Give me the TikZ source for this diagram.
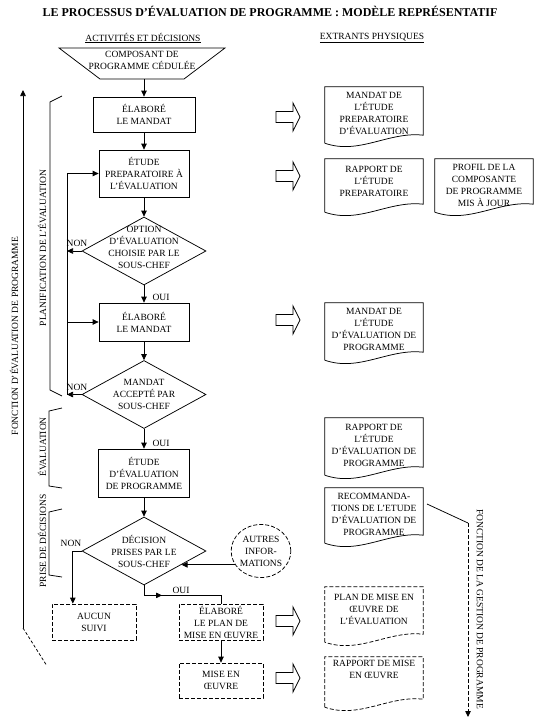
\documentclass[tikz,border=0pt]{standalone}
\usepackage{fontspec}
\setmainfont{Liberation Serif}
\usetikzlibrary{shapes.geometric, arrows.meta, calc}
\newcommand\mydocpath[1]{(#1.south west) -- (#1.north west) -- (#1.north east) -- ([yshift=8pt]#1.south east) .. controls ($(#1.south west)!0.65!(#1.south east)+(0,-12)$) and ($(#1.south west)!0.35!(#1.south east)+(0,12)$) .. (#1.south west)}
\begin{document}
\begin{tikzpicture}[x=1pt, y=-1pt,
  every node/.style={font=\fontsize{9.5}{12}\selectfont, align=center, inner sep=0pt},
  ln/.style={line width=0.75pt},
  arr/.style={ln, -{Triangle[length=6pt,width=5.5pt]}},
  dsh/.style={dash pattern=on 4pt off 2pt},
  stepbox/.style={draw, ln, rectangle},
  dbox/.style={draw, ln, dsh, rectangle},
  dia/.style={draw, ln, diamond, minimum width=124pt, minimum height=68pt},
  docn/.style={rectangle, minimum width=98pt},
  blk/.pic={\draw[ln] (0,-5.5) -- (17,-5.5) -- (17,-14) -- (24,0) -- (17,14) -- (17,5.5) -- (0,5.5) -- cycle;}
]
\useasboundingbox (0,0) rectangle (540,720);

% titles
\node[font=\bfseries\fontsize{12}{14}\selectfont] (title) at (270,11) {LE PROCESSUS D’ÉVALUATION DE PROGRAMME : MODÈLE REPRÉSENTATIF};
\node (h1) at (143,38) {\underline{ACTIVITÉS ET DÉCISIONS}};
\node (h2) at (372,38) {\underline{EXTRANTS PHYSIQUES}};

% main column
\draw[ln] (59,48) -- (225,48) -- (184,79) -- (100,79) -- cycle;
\node (comp) at (142,60) {COMPOSANT DE\\PROGRAMME CÉDULÉE};
\coordinate (compb) at (144,79);
\node[stepbox, minimum width=102pt, minimum height=35pt] (b1) at (144,114.5) {ÉLABORÉ\\LE MANDAT};
\node[stepbox, minimum width=90pt, minimum height=47pt] (b2) at (144,173.5) {ÉTUDE\\PREPARATOIRE À\\L’ÉVALUATION};
\node[dia, label={[yshift=4pt]center:{OPTION\\D’ÉVALUATION\\CHOISIE PAR LE\\SOUS-CHEF}}] (d1) at (144,251) {};
\node[stepbox, minimum width=90pt, minimum height=38pt] (b3) at (144,322) {ÉLABORÉ\\LE MANDAT};
\node[dia, label={center:{MANDAT\\ACCEPTÉ PAR\\SOUS-CHEF}}] (d2) at (144,394.5) {};
\node[stepbox, minimum width=91pt, minimum height=48pt] (b4) at (144,473) {ÉTUDE\\D’ÉVALUATION\\DE PROGRAMME};
\node[dia, label={center:{DÉCISION\\PRISES PAR LE\\SOUS-CHEF}}] (d3) at (144,551) {};
\node[dbox, minimum width=84pt, minimum height=36pt] (aucun) at (94,622) {AUCUN\\SUIVI};
\node[dbox, minimum width=84pt, minimum height=36pt] (plan) at (221,622) {ÉLABORÉ\\LE PLAN DE\\MISE EN ŒUVRE};
\node[dbox, minimum width=84pt, minimum height=35pt] (mise) at (221,680.5) {MISE EN\\ŒUVRE};
\node[ellipse, draw, ln, dsh, minimum width=58pt, minimum height=53pt] (autres) at (261,551) {AUTRES\\INFOR-\\MATIONS};

% main connectors
\draw[arr] (compb) -- (b1.north);
\draw[arr] (b1.south) -- (b2.north);
\draw[arr] (b2.south) -- (d1.north);
\draw[arr] (d1.south) -- (b3.north);
\draw[arr] (b3.south) -- (d2.north);
\draw[arr] (d2.south) -- (b4.north);
\draw[arr] (b4.south) -- (d3.north);
\node (oui1) at (161,297) {OUI};
\node (oui2) at (161,443) {OUI};

% loop
\coordinate (lp) at (67,0);
\draw[arr] (d1.west) -- (d1.west -| lp);
\draw[arr] (d2.west) -- (d2.west -| lp);
\draw[ln] (lp |- b2.west) -- (lp |- d2.west);
\draw[arr] (lp |- b2.west) -- (b2.west);
\draw[arr] (lp |- b3.west) -- (b3.west);
\node (non1) at (77,243) {NON};
\node (non2) at (77,387) {NON};

% decision outcomes
\draw[arr] (d3.west) -| ($(aucun.north west)!0.25!(aucun.north east)$);
\node (non3) at (71,543) {NON};
\draw[ln] (d3.south) -- ++(0,10) coordinate (o1) -| (plan.north);
\draw[arr] (o1) -- ++(18,0);
\node (oui3) at (181,590) {OUI};
\draw[arr] (autres.208) -- (autres.208 -| d3.-20);
\draw[arr] (plan.south) -- (mise.north);

% block arrows
\pic at (276,117) {blk};
\pic at (276,176) {blk};
\pic at (276,320) {blk};
\pic at (276,621) {blk};
\pic at (276,678) {blk};

% documents
\node[docn, minimum height=56pt, label={[yshift=1.5pt]center:{MANDAT DE\\L’ÉTUDE\\PREPARATOIRE\\D’ÉVALUATION}}] (doc1) at (374,115) {};
\node[docn, minimum height=53pt, label={[yshift=4.5pt]center:{RAPPORT DE\\L’ÉTUDE\\PREPARATOIRE}}] (doc2) at (374,185.5) {};
\node[docn, minimum height=53pt, label={[yshift=0.5pt]center:{PROFIL DE LA\\COMPOSANTE\\DE PROGRAMME\\MIS À JOUR}}] (doc3) at (484,185.5) {};
\node[docn, minimum height=57pt, label={[yshift=2.5pt]center:{MANDAT DE\\L’ÉTUDE\\D’ÉVALUATION DE\\PROGRAMME}}] (doc4) at (374,331.5) {};
\node[docn, minimum height=57pt, label={[yshift=1.5pt]center:{RAPPORT DE\\L’ÉTUDE\\D’ÉVALUATION DE\\PROGRAMME}}] (doc5) at (374,446.5) {};
\node[docn, minimum height=55pt, label={[yshift=1pt]center:{RECOMMANDA-\\TIONS DE L’ETUDE\\D’ÉVALUATION DE\\PROGRAMME}}] (doc6) at (374,515.5) {};
\node[docn, minimum height=55pt, label={[yshift=5.5pt]center:{PLAN DE MISE EN\\ŒUVRE DE\\L’ÉVALUATION}}] (doc7) at (374,614.5) {};
\node[docn, minimum height=50pt, label={[yshift=12.5pt]center:{RAPPORT DE MISE\\EN ŒUVRE}}] (doc8) at (374,682) {};
\draw[ln] \mydocpath{doc1};
\draw[ln] \mydocpath{doc2};
\draw[ln] \mydocpath{doc3};
\draw[ln] \mydocpath{doc4};
\draw[ln] \mydocpath{doc5};
\draw[ln] \mydocpath{doc6};
\draw[ln, dsh] \mydocpath{doc7};
\draw[ln, dsh] \mydocpath{doc8};

% left brackets and function arrow
\draw[ln] (62,96) -- (50,102) -- (50,390) -- (62,396);
\draw[ln] (62,408) -- (49,411) -- (49,486) -- (62,488);
\draw[ln] (62,509) -- (49,512) -- (49,575) -- (62,577);
\node[rotate=90] (planif) at (42,248) {PLANIFICATION DE L’ÉVALUATION};
\node[rotate=90] (evalu) at (42,447) {ÉVALUATION};
\node[rotate=90] (prise) at (42,541) {PRISE DE DÉCISIONS};
\coordinate (fa) at (23,628);
\coordinate (fb) at (23,90);
\coordinate (fc) at (47,666);
\draw[arr] (fa) -- (fb);
\draw[ln, dash pattern=on 3pt off 2pt] (fa) -- (fc);
\node[rotate=90] (fonc) at (14,336) {FONCTION D’ÉVALUATION DE PROGRAMME};

% right function
\coordinate (ga) at (427,504);
\coordinate (gb) at (468,523);
\coordinate (gc) at (468,717);
\draw[ln] (ga) -- (gb);
\draw[arr, dsh] (gb) -- (gc);
\node[rotate=-90] (gest) at (480,609) {FONCTION DE LA GESTION DE PROGRAMME};
\end{tikzpicture}
\end{document}
